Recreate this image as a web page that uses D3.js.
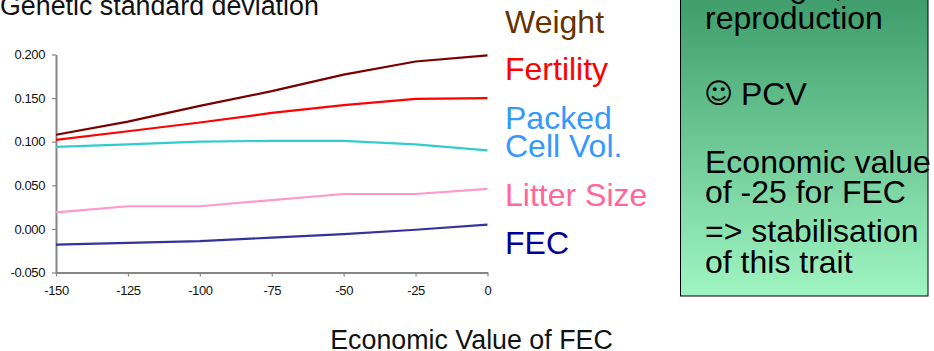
<!DOCTYPE html>
<html>
<head>
<meta charset="utf-8">
<script src="https://cdn.jsdelivr.net/npm/d3@7"></script>
<style>
  html, body { margin: 0; padding: 0; background: #fff; overflow: hidden; }
  text { font-family: "Liberation Sans", Arial, sans-serif; }
</style>
</head>
<body>
<div id="chart"></div>
<script>
const width = 934, height = 351;

// values
const econValues = [-150, -125, -100, -75, -50, -25, 0];
const yTicks = [-0.05, 0, 0.05, 0.1, 0.15, 0.2];
const weight = [0.108, 0.123, 0.141, 0.158, 0.177, 0.192, 0.199];
const fertility = [0.102, 0.112, 0.122, 0.133, 0.142, 0.149, 0.150];
const pcv = [0.094, 0.097, 0.100, 0.101, 0.101, 0.097, 0.090];
const litterSize = [0.019, 0.026, 0.026, 0.033, 0.040, 0.040, 0.046];
const fec = [-0.018, -0.016, -0.014, -0.010, -0.006, -0.001, 0.005];

const seriesValues = [weight, fertility, pcv, litterSize, fec];
const lineColors = ["#7a0000", "#ff0000", "#33cccc", "#ff99cc", "#333399"];

const labelTexts = ["Weight", "Fertility", "Packed", "Cell Vol.", "Litter Size", "FEC"];
const panelTexts = ["Weight,", "reproduction", "PCV", "Economic value", "of -25 for FEC", "=> stabilisation", "of this trait"];

const svg = d3.select("#chart").append("svg")
  .attr("width", width).attr("height", height)
  .style("display", "block");

const x = d3.scaleLinear().domain([-150, 0]).range([56, 487.5]);
const y = d3.scaleLinear().domain([-0.05, 0.2]).range([272.5, 54.5]);

// axes
const xAxis = d3.axisBottom(x).tickValues(econValues).tickFormat(d3.format("d")).tickSize(4).tickSizeOuter(0).tickPadding(9);
const yAxis = d3.axisLeft(y).tickValues(yTicks).tickFormat(d => d.toFixed(3)).tickSize(4).tickSizeOuter(0).tickPadding(7);

const gx = svg.append("g").attr("transform", "translate(0,272.5)").call(xAxis);
const gy = svg.append("g").attr("transform", "translate(56,0)").call(yAxis);

gx.selectAll("text").text((d, i) => String(econValues[i]));

[gx, gy].forEach(g => {
  g.selectAll("path,line").attr("stroke", "#868686");
  g.select("path").attr("stroke-width", 2);
  g.selectAll("line").attr("stroke-width", 1.2);
  g.selectAll("text")
    .attr("fill", "#111")
    .style("font-family", '"Liberation Sans", Arial, sans-serif')
    .style("font-size", "13px")
    .style("letter-spacing", "-0.4px");
});

// lines
const line = d3.line().x((d, i) => x(econValues[i])).y(d => y(d));
svg.selectAll("path.series")
  .data(seriesValues)
  .join("path")
    .attr("class", "series")
    .attr("fill", "none")
    .attr("stroke", (d, i) => lineColors[i])
    .attr("stroke-width", 2.2)
    .attr("d", line);

// axis titles
svg.append("text").attr("x", 0).attr("y", 15)
  .style("font-size", "26.8px").attr("fill", "#111").text("Genetic standard deviation");
svg.append("text").attr("x", 471.5).attr("y", 349).attr("text-anchor", "middle")
  .style("font-size", "26.8px").attr("fill", "#111").text("Economic Value of FEC");

// series labels
const labelY = [33, 80, 129, 157, 206, 254];
const labelColors = ["#663300", "#ff0000", "#3399ff", "#3399ff", "#ff6699", "#000099"];
svg.selectAll("text.lab")
  .data(labelTexts)
  .join("text")
    .attr("class", "lab")
    .attr("x", 505).attr("y", (d, i) => labelY[i])
    .attr("fill", (d, i) => labelColors[i])
    .style("font-size", "32px")
    .text(d => d);

// green panel
const grad = svg.append("defs").append("linearGradient")
  .attr("id", "panel").attr("x1", 0).attr("y1", 0).attr("x2", 0).attr("y2", 1);
grad.append("stop").attr("offset", 0).attr("stop-color", "#3d9c6a");
grad.append("stop").attr("offset", 1).attr("stop-color", "#9ff5c2");

svg.append("rect")
  .attr("x", 680.5).attr("y", -5).attr("width", 247.5).attr("height", 301)
  .attr("fill", "url(#panel)").attr("stroke", "#000").attr("stroke-width", 1);

const panelY = [-3, 29, 105, 173, 203, 242, 273];
const panelX = [735, 705, 741, 705, 705, 705, 705];
svg.selectAll("text.panel")
  .data(panelTexts)
  .join("text")
    .attr("class", "panel")
    .attr("x", (d, i) => panelX[i]).attr("y", (d, i) => panelY[i])
    .attr("fill", "#000")
    .style("font-size", "32px")
    .text(d => d);

// smiley in front of PCV
svg.append("text").attr("x", 704).attr("y", 103)
  .style("font-family", '"DejaVu Sans"').style("font-size", "28px")
  .attr("fill", "#000").text("☺");
</script>
</body>
</html>
